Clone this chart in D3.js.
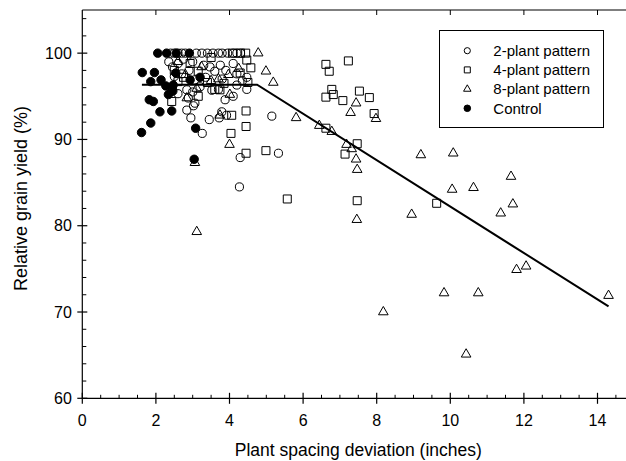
<!DOCTYPE html>
<html>
<head>
<meta charset="utf-8">
<script src="https://cdn.jsdelivr.net/npm/d3@7"></script>
<style>
  html, body { margin: 0; padding: 0; background: #fff; }
  svg { display: block; font-family: Arial, "Liberation Sans", sans-serif; }
</style>
</head>
<body>
<svg id="chart" width="626" height="461"></svg>
<script>
// ---------- data ----------
const xTicks = [0, 2, 4, 6, 8, 10, 12, 14];
const yTicks = [60, 70, 80, 90, 100];
const xLabel = "Plant spacing deviation (inches)";
const yLabel = "Relative grain yield (%)";
const seriesNames = ["2-plant pattern", "4-plant pattern", "8-plant pattern", "Control"];

const twoPlant = [
  [2.4,100],[2.5,100],[2.6,100],[2.7,100],[2.8,100],[3.1,100],[3.25,100],[3.4,100],[3.55,100],
  [3.7,100],[3.8,100],[3.95,100],[4.1,100],[4.2,100],[4.3,100],
  [2.35,99.0],[2.45,98.4],[2.6,98.8],[2.75,99.3],[2.9,98.0],[3.0,99.0],[3.3,98.6],[3.47,98.4],
  [3.6,97.9],[3.75,98.6],[3.9,98.0],[4.1,98.8],[4.2,97.6],[4.47,97.2],[4.35,96.8],[2.5,97.3],
  [2.7,97.6],[3.05,96.9],[3.35,97.2],[3.8,97.0],[4.2,96.3],[4.47,95.8],[3.52,95.7],[3.7,95.8],
  [2.84,95.75],[2.6,95.3],[3.0,95.5],[3.88,94.6],[2.88,94.8],[3.06,94.2],[3.02,93.9],[2.84,93.4],
  [2.95,92.5],[3.26,90.7],[3.45,92.3],[3.72,92.5],[3.92,92.8],[3.79,93.2],[5.15,92.7],[5.33,88.4],
  [4.29,87.9],[4.27,84.5],[4.1,95.0],[3.2,96.1],[2.45,96.0]
];
const fourPlant = [
  [4.08,100],[4.3,100],[4.44,100],[4.47,99.2],[4.58,98.3],[4.29,97.7],[4.5,96.6],[4.45,93.3],
  [4.45,91.5],[4.04,90.7],[4.45,88.4],[4.99,88.7],[4.06,92.8],[5.57,83.1],[2.43,94.4],[3.15,95.0],
  [3.74,95.75],[2.93,98.8],[3.15,97.9],[2.5,98.0],[2.75,97.2],[3.4,96.6],[3.6,95.8],[3.85,96.5],
  [2.6,96.7],[3.5,99.5],[6.62,98.7],[6.71,97.9],[7.23,99.1],[6.78,95.8],[6.62,94.9],[6.82,95.2],
  [7.08,94.5],[7.53,95.6],[7.8,94.85],[7.93,93.0],[6.62,91.3],[7.47,89.5],[7.14,88.3],[7.47,82.9],
  [9.63,82.6]
];
const eightPlant = [
  [4.78,100],[4.99,97.9],[5.19,96.6],[5.81,92.5],[6.44,91.6],[6.78,90.9],[7.44,94.2],[7.29,93.1],
  [7.98,92.4],[7.18,89.4],[7.32,88.9],[7.44,87.7],[7.47,86.5],[9.2,88.2],[10.08,88.4],[11.65,85.7],
  [10.05,84.2],[10.63,84.4],[7.46,80.7],[8.95,81.3],[11.37,81.45],[11.7,82.5],[11.8,74.9],
  [12.06,75.3],[9.83,72.2],[10.76,72.2],[14.3,71.9],[8.18,70.0],[10.43,65.1],[4.0,89.4],
  [3.06,87.3],[3.11,79.3],[3.24,98.4],[3.97,97.5],[4.01,95.2],[2.84,94.8],[3.74,92.8],[3.11,95.9],
  [2.6,99.0],[3.7,97.0],[4.25,98.2],[2.8,97.5],[3.5,96.8],[2.4,95.6]
];
const control = [
  [2.05,100],[2.29,100],[2.55,100],[2.91,100],[1.63,97.75],[1.96,97.75],[2.14,96.9],[1.86,96.7],
  [2.27,96.2],[2.47,96.3],[1.82,94.6],[1.93,94.4],[2.34,95.2],[2.11,93.2],[2.43,93.3],[1.86,91.9],
  [1.61,90.8],[3.08,91.3],[3.04,87.7],[2.54,97.7],[2.93,96.9],[3.2,97.2],[2.46,95.6]
];
// fitted linear-plateau line (break points)
const fitX = [1.62, 4.75, 14.3];
const fitY = [96.35, 96.35, 70.65];

// ---------- layout ----------
const svg = d3.select("#chart");
const x = d3.scaleLinear().domain([0, 15]).range([82.3, 634.3]);
const y = d3.scaleLinear().domain([60, 105]).range([398.3, 10]);

// frame top line
svg.append("line").attr("x1", x(0)).attr("x2", x(15)).attr("y1", y(105)).attr("y2", y(105))
  .attr("stroke", "#000").attr("stroke-width", 1.2);
// top ticks (inward)
svg.append("g").selectAll("line").data(xTicks.filter(d => d > 0)).join("line")
  .attr("x1", d => x(d)).attr("x2", d => x(d)).attr("y1", y(105)).attr("y2", y(105) + 5)
  .attr("stroke", "#000").attr("stroke-width", 1);

// bottom axis
const xMinor = d3.range(0.5, 15.01, 0.5).filter(v => Math.abs(v % 2) > 1e-6);
const gx = svg.append("g").attr("transform", `translate(0,${y(60)})`);
gx.append("line").attr("x1", x(0)).attr("x2", x(15)).attr("stroke", "#000").attr("stroke-width", 1.2);
gx.selectAll(".minor").data(xMinor).join("line").attr("class", "minor")
  .attr("x1", d => x(d)).attr("x2", d => x(d)).attr("y1", 0).attr("y2", -3.5)
  .attr("stroke", "#000").attr("stroke-width", 1);
gx.selectAll(".major").data(xTicks).join("line").attr("class", "major")
  .attr("x1", d => x(d)).attr("x2", d => x(d)).attr("y1", -5.5).attr("y2", 5.5)
  .attr("stroke", "#000").attr("stroke-width", 1.2);
gx.selectAll("text").data(xTicks).join("text")
  .attr("x", d => x(d)).attr("y", 27.5).attr("text-anchor", "middle")
  .attr("font-size", 16).attr("fill", "#000").text(d => d);

// left axis
const yMinor = d3.range(62, 105, 2).filter(v => v % 10 !== 0);
const gy = svg.append("g").attr("transform", `translate(${x(0)},0)`);
gy.append("line").attr("y1", y(60)).attr("y2", y(105)).attr("stroke", "#000").attr("stroke-width", 1.2);
gy.selectAll(".minor").data(yMinor).join("line").attr("class", "minor")
  .attr("y1", d => y(d)).attr("y2", d => y(d)).attr("x1", 0).attr("x2", 4)
  .attr("stroke", "#000").attr("stroke-width", 1);
gy.selectAll(".major").data(yTicks).join("line").attr("class", "major")
  .attr("y1", d => y(d)).attr("y2", d => y(d)).attr("x1", -5).attr("x2", 5)
  .attr("stroke", "#000").attr("stroke-width", 1.2);
gy.selectAll("text").data(yTicks).join("text")
  .attr("x", -10.5).attr("y", d => y(d)).attr("dy", "0.35em").attr("text-anchor", "end")
  .attr("font-size", 16).attr("fill", "#000").text(d => d);

// axis titles
svg.append("text").attr("x", (x(0) + x(15)) / 2).attr("y", 455.5).attr("text-anchor", "middle")
  .attr("font-size", 17.5).attr("fill", "#000").text(xLabel);
svg.append("text").attr("transform", `translate(27,198.5) rotate(-90)`).attr("text-anchor", "middle")
  .attr("font-size", 18).attr("fill", "#000").text(yLabel);

// ---------- markers ----------
const plot = svg.append("g");
const sym = (type, size) => d3.symbol().type(type).size(size)();
function drawSeries(data, path, fill) {
  plot.append("g").selectAll("path").data(data).join("path")
    .attr("transform", d => `translate(${x(d[0])},${y(d[1])})`)
    .attr("d", path)
    .attr("fill", fill).attr("stroke", "#000").attr("stroke-width", 1);
}
drawSeries(twoPlant, sym(d3.symbolCircle, 52), "none");
drawSeries(fourPlant, sym(d3.symbolSquare, 64), "none");
drawSeries(eightPlant, sym(d3.symbolTriangle, 40), "none");
drawSeries(control, sym(d3.symbolCircle, 56), "#000");

// fitted line
const lineData = fitX.map((v, i) => [v, fitY[i]]);
svg.append("path").datum(lineData)
  .attr("d", d3.line().x(d => x(d[0])).y(d => y(d[1])))
  .attr("fill", "none").attr("stroke", "#000").attr("stroke-width", 2);

// ---------- legend ----------
const lg = svg.append("g");
lg.append("rect").attr("x", 439.5).attr("y", 30.5).attr("width", 164).attr("height", 97)
  .attr("fill", "#fff").attr("stroke", "#000").attr("stroke-width", 1);
const legendSyms = [
  [sym(d3.symbolCircle, 30), "none"],
  [sym(d3.symbolSquare, 36), "none"],
  [sym(d3.symbolTriangle, 24), "none"],
  [sym(d3.symbolCircle, 34), "#000"]
];
seriesNames.forEach((name, i) => {
  const cy = 50.7 + i * 19.2;
  lg.append("path").attr("transform", `translate(467.3,${cy})`).attr("d", legendSyms[i][0])
    .attr("fill", legendSyms[i][1]).attr("stroke", "#000").attr("stroke-width", 1);
  lg.append("text").attr("x", 493.3).attr("y", cy).attr("dy", "0.35em")
    .attr("font-size", 15).attr("fill", "#000").text(name);
});
</script>
</body>
</html>
